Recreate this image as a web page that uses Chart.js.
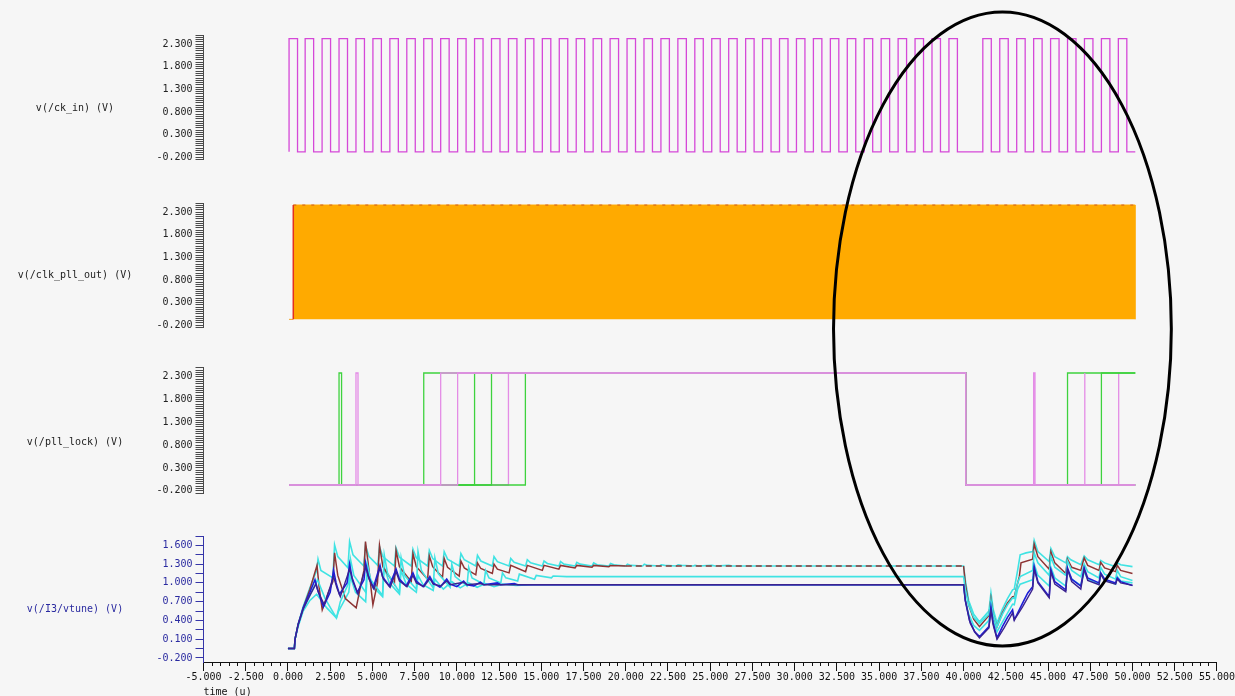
<!DOCTYPE html>
<html><head><meta charset="utf-8">
<script src="https://cdn.jsdelivr.net/npm/chart.js@4.4.1/dist/chart.umd.min.js"></script>
<style>
html,body{margin:0;padding:0;background:#f6f6f6;}
#wrap{position:relative;width:1235px;height:696px;overflow:hidden;background:#f6f6f6;}
#wrap canvas{position:absolute;left:0;}
.ylab{position:absolute;left:0;width:150px;text-align:center;font:10px "DejaVu Sans Mono",monospace;color:#222;white-space:pre;line-height:12px;}
</style></head>
<body><div id="wrap">
<canvas id="c1" width="1235" height="180" style="top:0px"></canvas>
<canvas id="c2" width="1235" height="167" style="top:180px"></canvas>
<canvas id="c3" width="1235" height="167" style="top:347px"></canvas>
<canvas id="c4" width="1235" height="184" style="top:514px"></canvas>
<div class="ylab" style="top:102px">v(/ck_in) (V)</div>
<div class="ylab" style="top:269px">v(/clk_pll_out) (V)</div>
<div class="ylab" style="top:436px">v(/pll_lock) (V)</div>
<div class="ylab" style="top:603px;color:#2a2aa0">v(/I3/vtune) (V)</div>
<canvas id="ov" width="1235" height="696" style="top:0px;pointer-events:none"></canvas>
</div>
<script>
// ---------- axes ----------
const X_MIN = -5, X_MAX = 55;
const xTickLabels = [-5,-2.5,0,2.5,5,7.5,10,12.5,15,17.5,20,22.5,25,27.5,30,32.5,35,37.5,40,42.5,45,47.5,50,52.5,55];
const xMinorStep = 0.5;
const yLabelsV = [-0.2,0.3,0.8,1.3,1.8,2.3];
const yLabelsVtune = [-0.2,0.1,0.4,0.7,1.0,1.3,1.6];

// ---------- v(/ck_in) ----------
const ckRise = [0.05,1,2,3,4,5,6,7,8,9,10,11,12,13,14,15,16,17,18,19,20,21,22,23,24,25,26,27,28,29,30,31,32,33,34,35,36,37,38,39,41,42,43,44,45,46,47,48,49];
const ckHighDur = 0.5;
const ckHi = 2.42, ckLo = -0.08;

// ---------- v(/clk_pll_out) (dense clock, drawn as its envelope) ----------
const clkStart = 0.05, clkEdge = 0.3, clkEnd = 50.0;
const clkHi = 2.455, clkLo = -0.07;

// ---------- v(/pll_lock) : toggle times of each run ----------
const lockHi = 2.386, lockLo = -0.074, lockStart = 0.05, lockEnd = 50;
const lockGreenA = [3.0, 3.15, 8.0, 40.0, 46.0];
const lockGreenB = [11.0, 40.0, 48.0];
const lockGreenC = [12.0, 40.0];
const lockGreenD = [14.0, 40.0];
const lockPinkA = [4.0, 4.12, 9.0, 40.0, 44.0, 44.08];
const lockPinkB = [10.0, 40.0, 47.0, 47.03];
const lockPinkC = [13.0, 40.0, 49.0, 49.03];

// ---------- v(/I3/vtune) ----------
const vtuneCyanTop = [[0,-0.05],[0.38,-0.05],[0.42,0.1],[0.6,0.34],[0.9,0.62],[1.3,0.92],[1.7,1.2],[1.78,1.38],[1.95,1.2],[2.66,1.08],
 [2.76,1.61],[2.95,1.42],[3.55,1.24],[3.65,1.66],[3.85,1.45],[4.49,1.27],[4.59,1.6],[4.8,1.42],[5.32,1.28],
 [5.42,1.58],[5.62,1.42],[6.3,1.27],[6.4,1.56],[6.6,1.41],[7.3,1.27],[7.4,1.54],[7.6,1.4],[8.27,1.27],
 [8.37,1.52],[8.57,1.39],[9.15,1.27],[9.25,1.5],[9.45,1.38],[10.14,1.27],[10.24,1.47],[10.44,1.37],[11.12,1.27],
 [11.22,1.44],[11.42,1.35],[12.1,1.27],[12.2,1.42],[12.4,1.34],[13.09,1.27],[13.19,1.39],[13.39,1.33],[14.07,1.27],
 [14.17,1.37],[14.37,1.32],[15.06,1.27],[15.16,1.35],[15.36,1.31],[16.04,1.27],[16.14,1.34],[16.34,1.3],[17.0,1.27],
 [17.1,1.33],[17.3,1.3],[18.0,1.27],[18.1,1.32],[18.3,1.29],[19.0,1.27],[19.1,1.31],[19.3,1.29],[20.0,1.27],
 [20.1,1.3],[20.3,1.28],[21.0,1.27],[21.1,1.3],[21.3,1.28],[22.0,1.27],[22.1,1.29],[22.3,1.28],[23.0,1.27],
 [23.1,1.29],[23.3,1.28],[24.0,1.27],[24.1,1.28],[24.3,1.27],[25.1,1.28],[25.3,1.27],[26.1,1.28],[26.3,1.27],
 [40.0,1.27],[40.1,1.05],[40.3,0.72],[40.6,0.5],[40.94,0.38],[41.5,0.55],[41.62,0.84],[41.75,0.58],[41.98,0.36],
 [42.3,0.58],[42.6,0.75],[42.9,0.89],[43.0,0.9],[43.2,1.2],[43.35,1.45],[43.7,1.48],[44.09,1.5],[44.18,1.68],[44.4,1.5],
 [45.07,1.34],[45.17,1.55],[45.4,1.42],[46.05,1.32],[46.15,1.42],[46.35,1.37],[46.94,1.29],[47.14,1.43],[47.35,1.37],
 [48.02,1.29],[48.12,1.36],[48.35,1.32],[49.0,1.26],[49.1,1.32],[49.3,1.29],[50.0,1.26]];
const vtuneDarkRed = [[0,-0.05],[0.38,-0.05],[0.42,0.1],[0.6,0.33],[0.9,0.6],[1.3,0.9],[1.72,1.28],[1.85,0.92],[2.03,0.57],[2.4,0.85],[2.66,1.02],
 [2.76,1.48],[2.95,1.12],[3.4,0.75],[4.04,0.6],[4.3,0.95],[4.5,1.2],[4.59,1.66],[4.8,1.2],[5.03,0.65],[5.3,1.0],[5.42,1.6],[5.62,1.26],
 [6.3,0.98],[6.4,1.52],[6.6,1.26],[7.3,1.02],[7.4,1.47],[7.6,1.26],[8.27,1.06],[8.37,1.43],[8.57,1.26],[9.15,1.09],[9.25,1.39],[9.45,1.25],
 [10.14,1.11],[10.24,1.35],[10.44,1.24],[11.12,1.13],[11.22,1.32],[11.42,1.23],[12.1,1.15],[12.2,1.3],[12.4,1.22],[13.09,1.16],[13.19,1.28],
 [14.07,1.18],[14.17,1.28],[15.06,1.2],[15.16,1.28],[16.04,1.22],[16.14,1.28],[17.0,1.24],[17.1,1.28],[18.0,1.25],[18.1,1.28],[19.0,1.26],
 [19.1,1.28],[20.0,1.27],[40.0,1.27],[40.1,1.0],[40.3,0.65],[40.6,0.42],[40.94,0.3],[41.5,0.48],[41.62,0.75],[41.75,0.5],[41.98,0.3],
 [42.3,0.52],[42.6,0.68],[42.9,0.78],[43.0,0.78],[43.3,1.1],[43.4,1.32],[44.09,1.38],[44.18,1.62],[44.4,1.42],[45.07,1.22],[45.17,1.5],
 [45.4,1.32],[46.05,1.15],[46.15,1.38],[46.4,1.25],[46.94,1.2],[47.14,1.4],[47.35,1.28],[48.02,1.2],[48.12,1.33],[48.35,1.24],[49.0,1.18],
 [49.1,1.28],[49.3,1.2],[50.0,1.15]];
const vtuneCyanMid = [[0,-0.05],[0.38,-0.05],[0.42,0.1],[0.6,0.32],[0.9,0.58],[1.3,0.8],[1.75,1.05],[2.2,0.75],[2.87,0.44],[3.1,0.7],[3.6,1.0],
 [3.7,1.38],[3.9,1.12],[4.6,0.85],[4.7,1.3],[4.9,1.05],[5.6,0.8],[5.7,1.45],[5.9,1.15],[6.6,0.85],[6.7,1.4],[6.9,1.12],[7.6,0.9],[7.7,1.5],
 [7.9,1.2],[8.6,0.92],[8.7,1.4],[8.9,1.15],[9.6,0.93],[9.7,1.3],[9.9,1.1],[10.6,0.95],[10.7,1.25],[10.9,1.08],[11.6,0.98],[11.7,1.2],
 [11.9,1.08],[12.6,1.0],[12.7,1.16],[12.9,1.08],[13.6,1.03],[13.7,1.14],[14.6,1.06],[14.7,1.12],[15.6,1.08],[15.7,1.11],[16.5,1.1],
 [40.0,1.1],[40.1,0.9],[40.3,0.65],[40.6,0.45],[40.94,0.35],[41.5,0.5],[41.62,0.72],[41.75,0.5],[41.98,0.3],[42.3,0.5],[42.6,0.65],
 [42.9,0.76],[43.0,0.75],[43.2,1.0],[43.35,1.1],[44.09,1.2],[44.18,1.48],[44.4,1.32],[45.07,1.12],[45.17,1.42],[45.4,1.25],[46.05,1.12],
 [46.15,1.35],[46.4,1.2],[46.94,1.1],[47.14,1.3],[47.35,1.18],[48.02,1.08],[48.12,1.25],[48.35,1.14],[49.0,1.06],[49.1,1.2],[49.3,1.1],[50.0,1.04]];
const vtuneCyanLow = [[0,-0.05],[0.38,-0.05],[0.42,0.1],[0.6,0.3],[0.9,0.55],[1.3,0.72],[1.7,0.82],[2.3,0.6],[2.87,0.44],[3.0,0.55],[3.6,0.85],
 [3.7,1.1],[4.0,0.85],[4.6,0.7],[4.7,1.2],[5.0,0.95],[5.6,0.78],[5.7,1.25],[6.0,1.0],[6.6,0.82],[6.7,1.2],[7.0,0.98],[7.6,0.85],[7.7,1.12],
 [8.0,0.97],[8.6,0.88],[8.7,1.06],[9.2,0.9],[9.7,1.02],[10.2,0.92],[10.7,1.0],[11.2,0.93],[11.7,0.99],[12.2,0.94],[12.7,0.98],[13.5,0.96],
 [14.5,0.97],[40.0,0.97],[40.1,0.75],[40.3,0.5],[40.6,0.32],[40.94,0.24],[41.5,0.4],[41.62,0.65],[41.75,0.42],[41.98,0.22],[42.4,0.42],
 [42.9,0.66],[43.0,0.65],[43.2,0.9],[43.35,0.98],[44.09,1.05],[44.18,1.3],[44.4,1.12],[45.07,0.95],[45.17,1.25],[45.4,1.08],[46.05,0.95],
 [46.15,1.2],[46.4,1.06],[46.94,0.96],[47.14,1.18],[47.35,1.06],[48.02,0.98],[48.12,1.15],[48.35,1.05],[49.0,0.98],[49.1,1.1],[49.3,1.03],[50.0,1.0]];
const vtuneBlue = [[0,-0.05],[0.38,-0.05],[0.42,0.1],[0.6,0.33],[0.9,0.6],[1.3,0.85],[1.6,1.05],[1.75,0.9],[2.1,0.62],[2.5,0.85],[2.7,1.2],
 [2.85,1.0],[3.05,0.82],[3.5,1.0],[3.65,1.3],[3.8,1.08],[4.1,0.85],[4.5,1.05],[4.6,1.32],[4.75,1.12],[5.05,0.92],[5.45,1.28],[5.6,1.1],
 [6.0,0.95],[6.4,1.22],[6.6,1.06],[7.0,0.95],[7.4,1.16],[7.6,1.03],[8.0,0.94],[8.4,1.1],[8.6,1.0],[9.0,0.93],[9.4,1.06],[9.6,0.98],
 [10.0,0.94],[10.4,1.03],[10.6,0.97],[11.0,0.95],[11.4,1.01],[11.6,0.97],[12.4,1.0],[12.6,0.97],[13.4,0.99],[13.6,0.97],[40.0,0.97],
 [40.1,0.72],[40.35,0.4],[40.65,0.22],[40.94,0.14],[41.5,0.3],[41.62,0.61],[41.75,0.36],[41.98,0.12],[42.3,0.3],[42.6,0.45],[42.9,0.57],
 [43.0,0.42],[43.1,0.46],[43.5,0.68],[43.8,0.84],[44.09,0.94],[44.18,1.26],[44.4,1.02],[45.07,0.78],[45.17,1.21],[45.4,1.02],[46.05,0.89],
 [46.15,1.24],[46.4,1.06],[46.94,0.95],[47.14,1.24],[47.35,1.08],[48.02,1.0],[48.12,1.16],[48.35,1.06],[49.0,1.0],[49.1,1.08],[49.3,1.02],[50.0,0.96]];
const vtunePurple = [[0,-0.05],[0.38,-0.05],[0.42,0.1],[0.6,0.33],[0.9,0.58],[1.3,0.8],[1.65,0.98],[1.8,0.85],[2.15,0.65],[2.7,1.1],[2.9,0.92],
 [3.1,0.78],[3.65,1.22],[3.85,1.02],[4.15,0.82],[4.6,1.26],[4.8,1.06],[5.1,0.9],[5.45,1.24],[5.65,1.06],[6.05,0.93],[6.4,1.18],[6.6,1.03],
 [7.05,0.94],[7.4,1.12],[7.6,1.0],[8.05,0.94],[8.4,1.07],[8.6,0.98],[9.05,0.95],[9.4,1.03],[9.6,0.97],[10.4,1.01],[10.6,0.97],[11.4,0.99],
 [11.6,0.97],[40.0,0.97],[40.1,0.72],[40.4,0.35],[40.7,0.2],[40.94,0.12],[41.5,0.28],[41.62,0.56],[41.75,0.33],[41.98,0.1],[42.4,0.28],
 [42.9,0.52],[43.0,0.4],[43.1,0.45],[43.5,0.62],[44.09,0.9],[44.18,1.22],[44.4,1.0],[45.07,0.76],[45.17,1.18],[45.4,0.98],[46.05,0.86],
 [46.15,1.22],[46.4,1.02],[46.94,0.9],[47.14,1.22],[47.35,1.04],[48.02,0.97],[48.12,1.14],[48.35,1.03],[49.0,0.98],[49.1,1.06],[49.3,1.0],[50.0,0.96]];

// ---------- annotation ellipse (x in time units, y in page px) ----------
const ELLIPSE_T = 42.3, ELLIPSE_HALF_T = 10.0, ELLIPSE_CY = 329, ELLIPSE_RY = 317;

// ---------- builders ----------
const FONT = '"DejaVu Sans Mono","Liberation Mono",monospace';
const AXIS_LEFT = 203.5, PAD_RIGHT = 15;
const pts = a => a.map(p => ({x:p[0], y:p[1]}));
function pulses(rises, dur, lo, hi, end){
  const o=[];
  rises.forEach(r=>{o.push({x:r,y:lo},{x:r,y:hi},{x:r+dur,y:hi},{x:r+dur,y:lo});});
  o.push({x:end,y:lo}); return o;
}
function toggles(list, start, end, lo, hi){
  const o=[{x:start,y:lo}]; let lv=lo;
  list.forEach(t=>{o.push({x:t,y:lv}); lv = (lv===lo?hi:lo); o.push({x:t,y:lv});});
  o.push({x:end,y:lv}); return o;
}
function line(data, color, width, order, extra){
  return Object.assign({data, borderColor:color, borderWidth:width, pointRadius:0, fill:false, tension:0, order}, extra||{});
}
function yScale(min, max, tStart, tEnd, step, labels, color, labelColor){
  return {
    type:'linear', position:'left', min, max,
    afterBuildTicks(s){ const a=[]; const n=Math.round((tEnd-tStart)/step); for(let i=0;i<=n;i++){a.push({value:Math.round((tStart+i*step)*1000)/1000});} s.ticks=a; },
    afterFit(s){ s.width = AXIS_LEFT; },
    grid:{drawOnChartArea:false, drawTicks:true, tickLength:8, color, lineWidth:1},
    border:{display:true, color, width:1},
    ticks:{autoSkip:false, padding:3, color:labelColor, font:{family:FONT,size:10},
      callback:(v)=> labels.some(m=>Math.abs(m-v)<1e-6) ? Number(v).toFixed(3) : ''}
  };
}
// ellipse annotation drawn once on a full-page overlay, positioned with the bottom chart's time scale
const ellipsePlugin = {
  id:'ellipse',
  afterDraw(chart){
    const ov = document.getElementById('ov');
    const ctx = ov.getContext('2d');
    const xs = chart.scales.x;
    const cx = xs.getPixelForValue(ELLIPSE_T);
    const rx = xs.getPixelForValue(ELLIPSE_T + ELLIPSE_HALF_T) - cx;
    ctx.clearRect(0,0,ov.width,ov.height);
    ctx.save(); ctx.beginPath();
    ctx.ellipse(cx, ELLIPSE_CY, rx, ELLIPSE_RY, 0, 0, Math.PI*2);
    ctx.lineWidth = 3; ctx.strokeStyle = '#000'; ctx.stroke(); ctx.restore();
  }
};
const minorXPlugin = {
  id:'minorX',
  afterDraw(chart){
    const xs = chart.scales.x, ctx = chart.ctx, y0 = chart.chartArea.bottom;
    ctx.save(); ctx.strokeStyle='#111'; ctx.lineWidth=1; ctx.beginPath();
    const n = Math.round((X_MAX-X_MIN)/xMinorStep);
    for(let i=0;i<=n;i++){
      const v = X_MIN + i*xMinorStep;
      if (xTickLabels.some(m=>Math.abs(m-v)<1e-6)) continue;
      const px = Math.round(xs.getPixelForValue(v))+0.5;
      ctx.moveTo(px, y0); ctx.lineTo(px, y0+4);
    }
    ctx.stroke(); ctx.restore();
  }
};
function hiddenX(){ return {type:'linear', min:X_MIN, max:X_MAX, display:false}; }
function makeChart(id, datasets, scales, padTop, padBottom, plugins){
  return new Chart(document.getElementById(id), {
    type:'line',
    data:{datasets},
    options:{
      responsive:false, animation:false, events:[], parsing:true,
      layout:{autoPadding:false, padding:{top:padTop, bottom:padBottom, left:0, right:PAD_RIGHT}},
      plugins:{legend:{display:false}, tooltip:{enabled:false}},
      scales
    },
    plugins:plugins||[]
  });
}
const GREY = '#4a4a4a';

// Panel 1: ck_in
makeChart('c1',
  [line(pulses(ckRise, ckHighDur, ckLo, ckHi, 50), '#d548d8', 1.3, 1)],
  {x:hiddenX(), y:yScale(-0.25, 2.5, -0.25, 2.5, 0.05, yLabelsV, GREY, '#222')}, 35, 20.5);

// Panel 2: clk_pll_out
makeChart('c2',
  [
    line([{x:clkEdge,y:clkHi},{x:clkEnd,y:clkHi}], '#ffa902', 1, 3, {fill:{value:clkLo}, backgroundColor:'#ffaa00'}),
    line([{x:clkEdge,y:clkHi},{x:clkEnd,y:clkHi}], '#cf5a22', 1, 2, {borderDash:[3,6]}),
    line([{x:clkEnd,y:clkLo},{x:clkEnd,y:clkHi}], '#ffa902', 1, 3),
    line([{x:clkStart,y:clkLo},{x:clkEdge,y:clkLo}], '#f0a020', 1, 2),
    line([{x:clkEdge,y:clkLo},{x:clkEdge,y:clkHi}], '#e2301e', 1.5, 1)
  ],
  {x:hiddenX(), y:yScale(-0.25, 2.5, -0.25, 2.5, 0.05, yLabelsV, GREY, '#222')}, 23, 19.5);

// Panel 3: pll_lock
const PINK = '#e48ce6', GREEN = '#3ed23e';
makeChart('c3',
  [
    line(toggles(lockPinkC, lockStart, lockEnd, lockLo, lockHi), PINK, 1.3, 9),
    line(toggles(lockGreenD, lockStart, lockEnd, lockLo, lockHi), GREEN, 1.3, 8),
    line(toggles(lockGreenC, lockStart, lockEnd, lockLo, lockHi), GREEN, 1.3, 7),
    line(toggles(lockGreenB, lockStart, lockEnd, lockLo, lockHi), GREEN, 1.3, 6),
    line(toggles(lockGreenA, lockStart, lockEnd, lockLo, lockHi), GREEN, 1.3, 5),
    line(toggles(lockPinkA, lockStart, lockEnd, lockLo, lockHi), PINK, 1.3, 2),
    line(toggles(lockPinkB, lockStart, lockEnd, lockLo, lockHi), PINK, 1.3, 1)
  ],
  {x:hiddenX(), y:yScale(-0.25, 2.5, -0.25, 2.5, 0.05, yLabelsV, GREY, '#222')}, 20.8, 21);

// Panel 4: vtune
const CYAN = '#3fe3e3', DRED = '#8e3434', BLUE = '#1e1ed8', PURP = '#3b2290';
makeChart('c4',
  [
    line(pts(vtuneCyanLow), CYAN, 1.6, 7),
    line(pts(vtuneCyanTop), CYAN, 1.6, 6),
    line(pts(vtuneDarkRed), DRED, 1.5, 5, {segment:{borderDash: c => c.p0.parsed.x >= 20 && c.p0.parsed.x < 40 ? [6,4] : undefined}}),
    line(pts(vtuneCyanMid), CYAN, 1.6, 4),
    line(pts(vtuneBlue), BLUE, 1.6, 3),
    line(pts(vtunePurple), PURP, 1.4, 2)
  ],
  {
    x:{type:'linear', position:'bottom', min:X_MIN, max:X_MAX,
      afterBuildTicks(s){ s.ticks = xTickLabels.map(v=>({value:v})); },
      afterFit(s){ s.height = 36; },
      grid:{drawOnChartArea:false, drawTicks:true, tickLength:9, color:'#111'},
      border:{display:true, color:'#111', width:1},
      ticks:{autoSkip:false, maxRotation:0, minRotation:0, padding:0, color:'#111', font:{family:FONT,size:10},
        callback:v=>Number(v).toFixed(3)},
      title:{display:true, text:'time (u)', align:'start', color:'#111', font:{family:FONT,size:10}, padding:{top:0,bottom:0}}
    },
    y:yScale(-0.265, 1.75, -0.2, 1.75, 0.15, yLabelsVtune, '#3535a8', '#2a2aa0')
  }, 22, 0, [minorXPlugin, ellipsePlugin]);
</script>
</body></html>
